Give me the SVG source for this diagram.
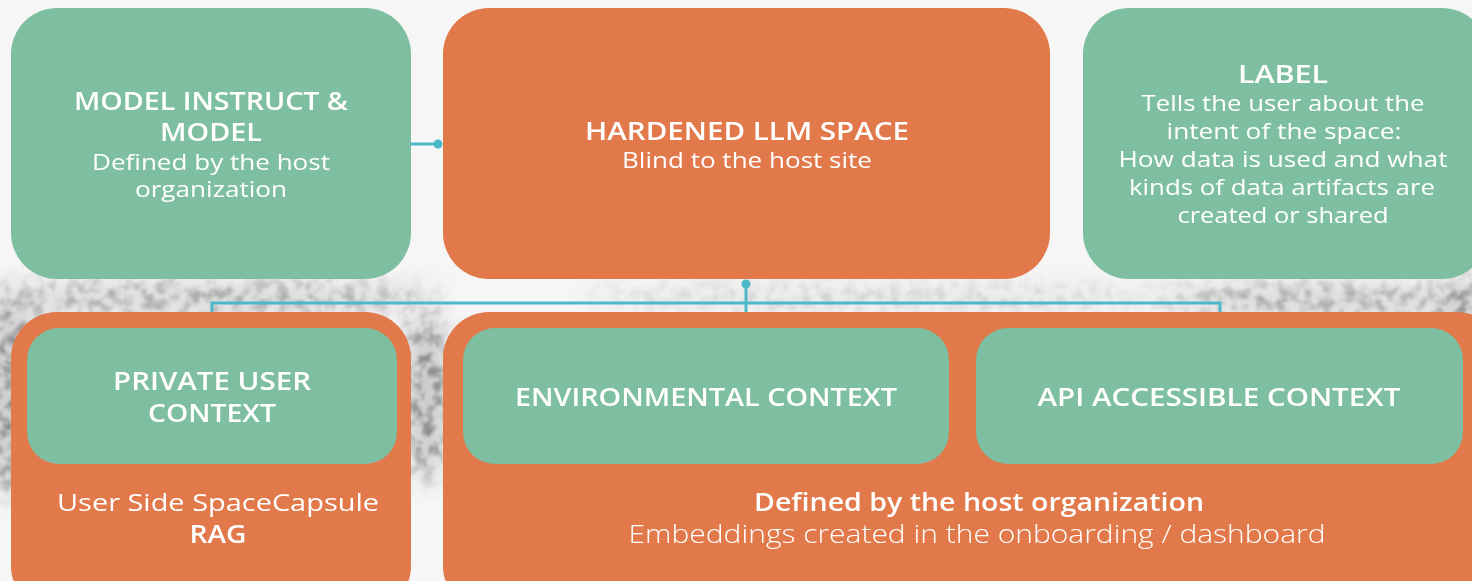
<svg xmlns="http://www.w3.org/2000/svg" width="1472" height="581" viewBox="0 0 1472 581">
<defs>
<style>
.green{fill:#7fbfa1}
.orange{fill:#e2794b}
.t{font-family:"Open Sans","Noto Sans",sans-serif;fill:#ffffff;text-anchor:middle}
.h{font-weight:600;font-size:25px}
.s{font-weight:400;font-size:22px}
.conn{stroke:#4db8c9;stroke-width:3;fill:none}
.dot{fill:#4db8c9}
</style>
<filter id="grain" x="-10%" y="-60%" width="120%" height="220%">
<feGaussianBlur in="SourceGraphic" stdDeviation="12" result="b"/>
<feTurbulence type="fractalNoise" baseFrequency="0.09" numOctaves="3" seed="7" result="n"/>
<feColorMatrix in="n" type="matrix" values="0 0 0 0 0.22  0 0 0 0 0.22  0 0 0 0 0.22  0 0 0 3.2 -1.3" result="nn"/>
<feGaussianBlur in="nn" stdDeviation="0.8" result="nb"/>
<feComposite in="nb" in2="b" operator="in" result="g"/>
<feComponentTransfer in="b" result="bf"><feFuncA type="linear" slope="0.4"/></feComponentTransfer>
<feMerge><feMergeNode in="bf"/><feMergeNode in="g"/></feMerge>
</filter>
</defs>
<rect width="1472" height="581" fill="#f6f6f6"/>
<g id="smudge" filter="url(#grain)" fill="#8a8a8a">
<ellipse cx="200" cy="298" rx="240" ry="14" opacity="0.7"/>
<ellipse cx="14" cy="400" rx="30" ry="95" opacity="0.9"/>
<ellipse cx="427" cy="395" rx="20" ry="85" opacity="1"/>
<ellipse cx="880" cy="298" rx="300" ry="8" opacity="0.45"/>
<ellipse cx="1330" cy="300" rx="170" ry="12" opacity="0.8"/>
<ellipse cx="1462" cy="305" rx="25" ry="25" opacity="0.8"/>
</g>
<g id="connectors">
<line class="conn" x1="411" y1="144" x2="438" y2="144"/>
<circle class="dot" cx="438" cy="144" r="4.5"/>
<circle class="dot" cx="746" cy="284" r="4.5"/>
<line class="conn" x1="746" y1="284" x2="746" y2="330"/>
<polyline class="conn" points="212,330 212,303 1220,303 1220,330"/>
</g>
<g id="model-instruct">
<rect class="green" x="11" y="8" width="400" height="271" rx="46"/>
<text class="t h" x="211" y="110" textLength="274" lengthAdjust="spacingAndGlyphs">MODEL INSTRUCT &amp;</text>
<text class="t h" x="211" y="141" textLength="102" lengthAdjust="spacingAndGlyphs">MODEL</text>
<text class="t s" x="211" y="170" textLength="238" lengthAdjust="spacingAndGlyphs">Defined by the host</text>
<text class="t s" x="211" y="197" textLength="152" lengthAdjust="spacingAndGlyphs">organization</text>
</g>
<g id="hardened-llm-space">
<rect class="orange" x="443" y="8" width="607" height="271" rx="46"/>
<text class="t h" x="747" y="140" textLength="324" lengthAdjust="spacingAndGlyphs">HARDENED LLM SPACE</text>
<text class="t s" x="747" y="168" textLength="250" lengthAdjust="spacingAndGlyphs">Blind to the host site</text>
</g>
<g id="label">
<rect class="green" x="1083" y="8" width="405" height="271" rx="46"/>
<text class="t h" x="1283" y="83" textLength="90" lengthAdjust="spacingAndGlyphs">LABEL</text>
<text class="t s" x="1283" y="111" textLength="283" lengthAdjust="spacingAndGlyphs">Tells the user about the</text>
<text class="t s" x="1284" y="139" textLength="235" lengthAdjust="spacingAndGlyphs">intent of the space:</text>
<text class="t s" x="1283" y="167" textLength="329" lengthAdjust="spacingAndGlyphs">How data is used and what</text>
<text class="t s" x="1282" y="195" textLength="306" lengthAdjust="spacingAndGlyphs">kinds of data artifacts are</text>
<text class="t s" x="1283" y="223" textLength="211" lengthAdjust="spacingAndGlyphs">created or shared</text>
</g>
<g id="user-side-capsule">
<rect class="orange" x="11" y="312" width="400" height="300" rx="46"/>
<text class="t s" x="218" y="511" style="font-size:24px" textLength="322" lengthAdjust="spacingAndGlyphs">User Side SpaceCapsule</text>
<text class="t h" x="218" y="543" textLength="57" lengthAdjust="spacingAndGlyphs">RAG</text>
</g>
<g id="host-defined">
<rect class="orange" x="443" y="312" width="1060" height="300" rx="46"/>
<text class="t h" x="979" y="511" textLength="450" lengthAdjust="spacingAndGlyphs">Defined by the host organization</text>
<text class="t" x="977" y="543" style="font-size:26px;font-weight:300" textLength="697" lengthAdjust="spacingAndGlyphs">Embeddings created in the onboarding / dashboard</text>
</g>
<g id="private-user-context">
<rect class="green" x="27" y="328" width="370" height="136" rx="32"/>
<text class="t h" x="212" y="390" textLength="198" lengthAdjust="spacingAndGlyphs">PRIVATE USER</text>
<text class="t h" x="212" y="422" textLength="128" lengthAdjust="spacingAndGlyphs">CONTEXT</text>
</g>
<g id="environmental-context">
<rect class="green" x="463" y="328" width="486" height="136" rx="32"/>
<text class="t h" x="706" y="406" textLength="382" lengthAdjust="spacingAndGlyphs">ENVIRONMENTAL CONTEXT</text>
</g>
<g id="api-accessible-context">
<rect class="green" x="976" y="328" width="487" height="136" rx="32"/>
<text class="t h" x="1219" y="406" textLength="363" lengthAdjust="spacingAndGlyphs">API ACCESSIBLE CONTEXT</text>
</g>
</svg>
